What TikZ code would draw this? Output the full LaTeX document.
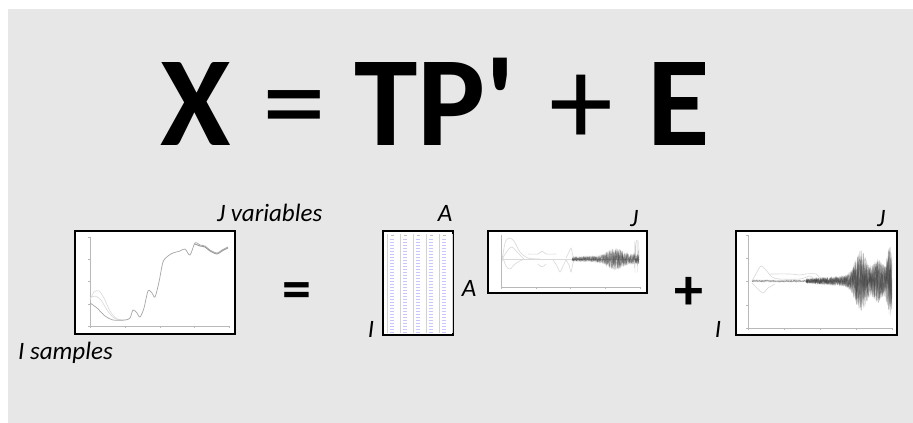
\documentclass[tikz,border=0pt]{standalone}
\usepackage{fontspec}
\newfontfamily\carl{Carlito}
\definecolor{bg}{HTML}{E7E7E7}
\begin{document}
\begin{tikzpicture}[x=1pt,y=-1pt,
  lbl/.style={font=\carl\itshape\fontsize{25}{25}\selectfont, inner sep=0pt},
  big/.style={inner sep=0pt, anchor=base west, font=\carl\bfseries\fontsize{128}{128}\selectfont},
  bigop/.style={inner sep=0pt, anchor=base west, font=\carl\fontsize{128}{128}\selectfont},
  opsym/.style={font=\carl\bfseries\fontsize{58}{58}\selectfont, inner sep=0pt},
  plotbox/.style={draw=black, line width=1.8pt, fill=white, inner sep=0pt},
  axis/.style={draw=gray!55, line width=0.4pt},
  curve/.style={gray!70, line width=0.7pt},
  faint/.style={gray!30, line width=0.6pt},
  noise/.style={black!80, line width=0.25pt, opacity=0.25}]
\useasboundingbox (0,0) rectangle (913,423);
\fill[white] (0,0) rectangle (913,423);
\fill[bg] (8,9) rectangle (913,423);

% title
\node[big] (tX) at (160,145) {X};
\node[bigop] (tEq) at (262,145) {=};
\node[big] (tTP) at (354,145) {TP'};
\node[bigop] (tPlus) at (549,145) {+};
\node[big] (tE) at (647,145) {E};

% ---------- X box ----------
\node[plotbox, minimum width=160pt, minimum height=103pt] (Xbox) at (155,282.5) {};
\draw[axis] (90,237) -- (90,326) -- (229,326);
\foreach \t in {90,125,160,194,229} \draw[axis] (\t,326) -- (\t,328);
\foreach \t in {237,259,281,304,326} \draw[axis] (90,\t) -- (88,\t);
\draw[faint] plot[smooth] coordinates {(90,300) (94,292) (99,291) (104,298) (110,311) (117,319) (125,320)};
\draw[faint] plot[smooth] coordinates {(90,298) (95,296) (101,300) (107,310) (114,318) (122,320)};
\draw[curve] plot[smooth] coordinates {(90,303) (97,308) (105,316) (113,320) (125,320) (130,318) (133,310) (137,313) (140,317) (144,308) (148,291) (152,293) (155,297) (159,282) (163,262) (168,256) (173,253) (180,251) (185,249) (190,255) (195,243) (200,245) (205,246) (210,250) (217,253) (222,250) (228,247)};
\draw[gray!80, line width=0.9pt] plot[smooth] coordinates {(195,244) (200,246) (205,247) (210,251) (217,254) (222,251) (228,248)};
\node[lbl, anchor=base west] (Jv) at (217,221) {J variables};
\node[lbl, anchor=base west] (Is) at (18,359) {I samples};

% equals
\node[opsym] (eq) at (297,296) {=};

% ---------- T box ----------
\node[plotbox, minimum width=70pt, minimum height=104pt] (Tbox) at (418,283) {};
\foreach \s in {387,400,413,426,439,452} \draw[gray!35, line width=0.5pt] (\s,234) -- (\s,333);
\foreach \c in {392,405,418,431,444} {
  \draw[gray!50, line width=3pt, dash pattern=on 1pt off 1pt] (\c,234.5) -- (\c,236.5);
  \draw[blue!22, line width=4.5pt, dash pattern=on 1.4pt off 1.6pt] (\c,239) -- (\c,333);
}
\node[lbl, anchor=base] (TA) at (445,221) {A};
\node[lbl, anchor=base] (TI) at (371,337) {I};

% ---------- P box ----------
\node[plotbox, minimum width=159pt, minimum height=62pt] (Pbox) at (567.5,262) {};
\draw[axis] (501,235) -- (501,287) -- (640,287);
\foreach \t in {501,536,570,605,640} \draw[axis] (\t,287) -- (\t,289);
\draw[faint] plot[smooth] coordinates {(502,262) (505,243) (509,238) (514,241) (520,252) (528,258) (540,259)};
\draw[faint] plot[smooth] coordinates {(502,255) (506,266) (510,269) (515,264) (522,260) (530,259)};
\draw[faint] plot[smooth] coordinates {(502,259) (508,250) (512,247) (518,253) (524,259)};
\draw[faint] (502,259) -- (640,259);
\draw[faint] plot[smooth] coordinates {(528,254) (538,254) (542,251) (546,254) (556,254)};
\draw[faint] plot[smooth] coordinates {(538,264) (542,267) (546,264)};
\draw[faint] plot[smooth] coordinates {(553,260) (557,266) (560,272) (563,266) (566,260)};
\draw[faint] plot[smooth] coordinates {(566,258) (569,252) (571,248) (573,256) (575,259)};
\draw[faint] plot[smooth] coordinates {(566,260) (569,265) (571,272) (573,263) (575,259)};
\pgfmathsetseed{7}
\foreach \k in {1,...,7} {
  \draw[noise] plot[domain=572:639, samples=200] (\x, {259 + (2 + 3*(\x-572)/67 + 7*exp(-((\x-615)/10)*((\x-615)/10)))*rand});
}
\draw[noise] plot[domain=634:639, samples=20] (\x, {259 + 20*rand});

\node[lbl, anchor=base] (PA) at (469,296) {A};
\node[lbl, anchor=base] (PJ) at (634,226) {J};

% plus
\node[opsym] (plus) at (689,293) {+};

% ---------- E box ----------
\node[plotbox, minimum width=161pt, minimum height=104pt] (Ebox) at (816.5,283) {};
\draw[axis] (748,235) -- (748,328) -- (892,328);
\foreach \t in {748,784,820,856,892} \draw[axis] (\t,328) -- (\t,330);
\foreach \t in {235,258,281,305,328} \draw[axis] (748,\t) -- (746,\t);
\draw[faint] plot[smooth] coordinates {(752,281) (757,272) (761,266) (766,270) (772,277) (780,279) (800,279) (810,276) (814,279) (818,281)};
\draw[faint] plot[smooth] coordinates {(752,283) (758,289) (763,293) (768,288) (775,284)};
\draw[faint] plot[smooth] coordinates {(770,274) (790,274) (800,275) (805,274) (816,274) (820,279)};
\pgfmathsetseed{3}
\foreach \k in {1,...,4} {
  \draw[noise] plot[domain=752:808, samples=120] (\x, {281 + 1.2*rand});
}
\foreach \k in {1,...,10} {
  \draw[noise] plot[domain=806:892, samples=260] (\x, {281 + (2 + 7*(\x-806)/86 + 24*exp(-((\x-861)/8)*((\x-861)/8)) + 14*exp(-((\x-878)/6)*((\x-878)/6)) + 26*exp(-((\x-890)/4)*((\x-890)/4)))*rand});
}
\node[lbl, anchor=base] (EJ) at (881,226) {J};
\node[lbl, anchor=base] (EI) at (718,337) {I};
\end{tikzpicture}
\end{document}
